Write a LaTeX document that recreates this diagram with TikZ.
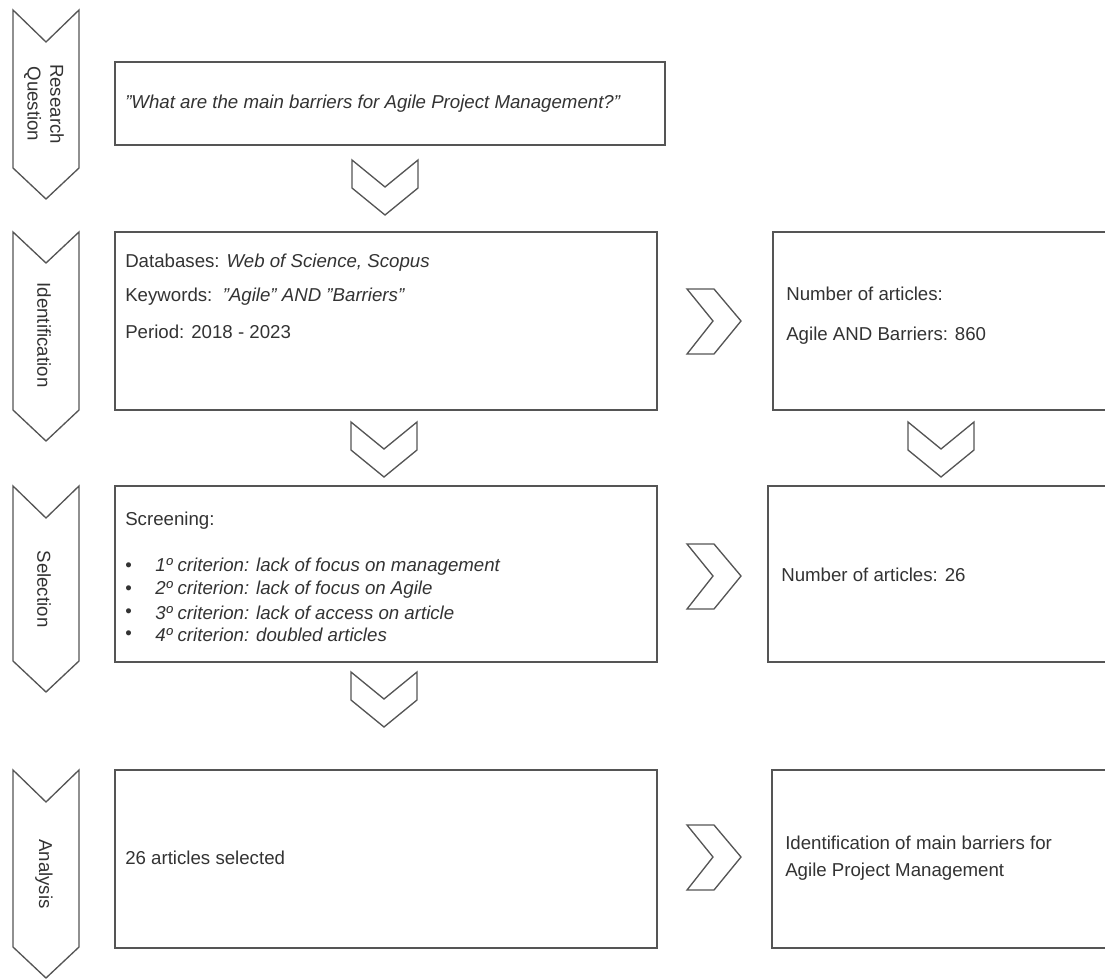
\documentclass[tikz,border=0pt]{standalone}
\usepackage{fontspec}
\setmainfont{Liberation Sans}
\usetikzlibrary{fit}
\definecolor{lc}{HTML}{555555}
\definecolor{tc}{HTML}{333333}
\tikzset{
  box/.style={draw=lc, line width=1.1pt, inner sep=0pt, fill=white},
  chev/.style={draw=lc, line width=1pt, line join=miter, fill=white},
  txt/.style={anchor=west, inner sep=0pt, text=tc, font=\fontsize{14}{17}\selectfont},
  stage/.style={rotate=-90, align=center, inner sep=0pt, text=tc, font=\fontsize{14}{17}\selectfont},
}
\begin{document}
\begin{tikzpicture}[x=0.75pt,y=-0.75pt]
\useasboundingbox (0,0) rectangle (1105,978);
\clip (0,0) rectangle (1105,978);
% left stage chevrons
\foreach \t/\n/\b in {10/42/168, 232/263/410, 486/518/661, 770/802/947}{
  \pgfmathsetmacro{\tip}{\b+31}
  \draw[chev] (13,\t) -- (46,\n) -- (79,\t) -- (79,\b) -- (46,\tip) -- (13,\b) -- cycle;
}
\node[stage] (sRQ) at (44,104) {Research\\Question};
\node[stage] (sID) at (44,335) {Identification};
\node[stage] (sSE) at (44,589) {Selection};
\node[stage] (sAN) at (44,874) {Analysis};
% boxes
\node[box, fit={(115,62) (665,145)}] (rq) {};
\node[box, fit={(115,232) (657,410)}] (id) {};
\node[box, fit={(773,232) (1112,410)}] (idr) {};
\node[box, fit={(115,486) (657,662)}] (se) {};
\node[box, fit={(768,486) (1112,662)}] (ser) {};
\node[box, fit={(115,770) (657,948)}] (an) {};
\node[box, fit={(772,770) (1112,948)}] (anr) {};
% down chevrons
\foreach \x/\t in {385/160, 384/422, 941/422, 384/672}{
  \draw[chev] (\x-33,\t) -- (\x,\t+27) -- (\x+33,\t) -- (\x+33,\t+28) -- (\x,\t+55) -- (\x-33,\t+28) -- cycle;
}
% right chevrons
\foreach \c in {321, 576, 857}{
  \draw[chev] (687,\c-32) -- (714,\c-32) -- (741,\c) -- (714,\c+33) -- (687,\c+33) -- (713,\c) -- cycle;
}
% texts
\node[txt] (t1) at (125,104) {\itshape "What are the main barriers for Agile Project Management?"};
\node[txt] (t2) at (125,263) {Databases: \textit{Web of Science, Scopus}};
\node[txt] (t3) at (125,297) {Keywords:\ \ \textit{"Agile" AND "Barriers"}};
\node[txt] (t4) at (125,332) {Period: 2018 - 2023};
\node[txt] (t5) at (786,294) {Number of articles:};
\node[txt] (t6) at (786,336) {Agile AND Barriers: 860};
\node[txt] (t7) at (125,521) {Screening:};
\foreach \y/\s in {567/1º criterion: lack of focus on management, 590/2º criterion: lack of focus on Agile, 613/3º criterion: lack of access on article, 635/4º criterion: doubled articles}{
  \node[txt] at (125,\y) {•};
  \node[txt] at (155,\y) {\itshape \s};
}
\node[txt] (t8) at (781,575) {Number of articles: 26};
\node[txt] (t9) at (125,858) {26 articles selected};
\node[txt, align=left] (t10) at (785,858) {Identification of main barriers for\\[3pt]Agile Project Management};
\end{tikzpicture}
\end{document}
